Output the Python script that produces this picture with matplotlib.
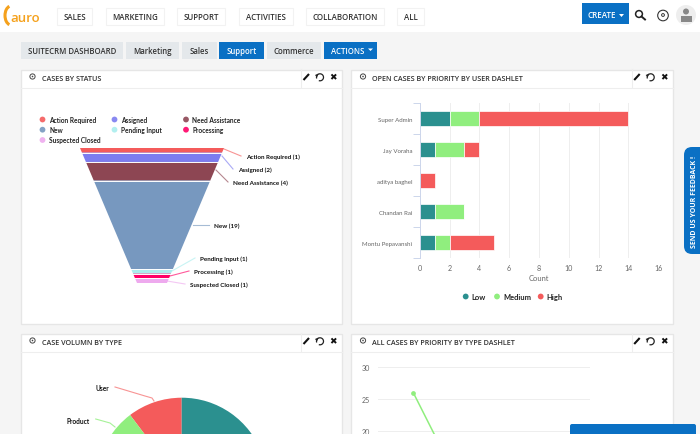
#!/usr/bin/env python3
import matplotlib
matplotlib.use('Agg')
import matplotlib.pyplot as plt
from matplotlib.patches import Rectangle, FancyBboxPatch, Polygon, Circle, Arc

W, H = 700, 435

# funnel - cases by status
status_names = ['Action Required', 'Assigned', 'Need Assistance', 'New',
                'Pending Input', 'Processing', 'Suspected Closed']
status_values = [1, 2, 4, 19, 1, 1, 1]
status_colors = ['#f45b5b', '#7c7cf0', '#8d4653', '#7798bf', '#aaeeee', '#ff0066', '#eeaaee']

# bars - open cases by priority by user
users = ['Super Admin', 'Jay Voraha', 'aditya baghel', 'Chandan Rai', 'Montu Pepavanshi']
low_counts = [2, 1, 0, 1, 1]
medium_counts = [2, 2, 0, 2, 1]
high_counts = [10, 1, 1, 0, 3]
priority_names = ['Low', 'Medium', 'High']
priority_colors = ['#2b908f', '#90ee7e', '#f45b5b']

# pie - case volume by type, only the top of it is on screen
type_names = ['User', 'Product', 'Administration']
type_values = [10.3, 12, 77.7]
type_colors = ['#f45b5b', '#90ee7e', '#2b908f']

# line - all cases by priority by type
line_medium = [26, 4]
line_ticks = [20, 25, 30]

nav_items = [('SALES', 57, 92), ('MARKETING', 106, 164), ('SUPPORT', 177, 225),
             ('ACTIVITIES', 239, 293), ('COLLABORATION', 306, 384), ('ALL', 397, 424)]
tab_items = [('SUITECRM DASHBOARD', 21, 123, False), ('Marketing', 126, 179, False),
             ('Sales', 182, 217, False), ('Support', 219, 264, True), ('Commerce', 267, 321, False)]

UI_FONT = 'Open Sans'
CHART_FONT = 'Lato'
DARK = '#333333'
BLUE = '#0a70c4'
plt.rcParams['font.family'] = [UI_FONT, 'DejaVu Sans']


def px_axes(x0, y0, x1, y1, **kw):
    # axes given in picture pixels, y going down
    return fig.add_axes([x0 / W, 1 - y1 / H, (x1 - x0) / W, (y1 - y0) / H], **kw)


fig = plt.figure(figsize=(7, 4.35), dpi=100, facecolor='#f5f5f5')

bg = px_axes(0, 0, W, H, zorder=0)
bg.set_xlim(0, W)
bg.set_ylim(H, 0)
bg.axis('off')

top = px_axes(0, 0, W, H, zorder=5)
top.set_xlim(0, W)
top.set_ylim(H, 0)
top.axis('off')
top.patch.set_alpha(0)


def dashlet_icons(x0, y_mid, x1):
    bg.plot([x1 - 41, x1 - 41], [y_mid - 8, y_mid + 10], color='#eeeeee', lw=0.8)
    # pencil
    bg.plot([x1 - 38.5, x1 - 33], [y_mid + 3, y_mid - 3], color='#111111', lw=1.5, solid_capstyle='butt')
    # reload
    bg.add_patch(Arc((x1 - 22, y_mid + 0.3), 7, 7, theta1=-200, theta2=110, color='#222222', lw=0.9))
    bg.add_patch(Polygon([(x1 - 27, y_mid - 2), (x1 - 23.5, y_mid - 3.5), (x1 - 25, y_mid + 0.5)], fc='#222222', ec='none'))
    # close
    bg.text(x1 - 9, y_mid, '\u2716', family='DejaVu Sans', fontsize=6.5, color='#111111',
            ha='center', va='center')
    # dashlet gear
    bg.add_patch(Circle((x0 + 12, y_mid - 0.5), 2.6, fc='white', ec='#444444', lw=0.7))
    bg.add_patch(Circle((x0 + 12, y_mid - 0.5), 0.8, fc='#444444', ec='none'))


def dashlet(x0, y0, x1, y1, title):
    bg.add_patch(Rectangle((x0, y0), x1 - x0, y1 - y0, fc='white', ec='#e6e6e6', lw=1))
    bg.plot([x0, x1], [y0 + 18, y0 + 18], color='#eeeeee', lw=0.8)
    bg.text(x0 + 21.5, y0 + 8.7, title, fontsize=5.2, color=DARK, fontweight='semibold', va='center')
    dashlet_icons(x0, y0 + 7.5, x1)


# top bar
bg.add_patch(Rectangle((0, 0), W, 32.5, fc='white', ec='none'))
for label, x0, x1 in nav_items:
    bg.add_patch(Rectangle((x0, 9), x1 - x0, 17, fc='white', ec='#f2f2f2', lw=0.8))
    bg.text((x0 + x1) / 2, 18, label, fontsize=5.7, color=DARK, ha='center', va='center', fontweight='semibold')

# logo
bg.text(10, 18, 'auro', fontsize=9.5, color='#f5a11c', va='center', fontweight='semibold')
bg.add_patch(Arc((11, 16.5), 12, 19, theta1=100, theta2=260, color='#f5a11c', lw=2.2))

# create button and icons
bg.add_patch(Rectangle((582, 4), 47, 21, fc=BLUE, ec='none'))
bg.text(587, 15.5, 'CREATE', fontsize=5.8, color='white', va='center', fontweight='semibold')
bg.add_patch(Polygon([(619, 15), (624, 15), (621.5, 18)], fc='white', ec='none'))
bg.add_patch(Circle((639, 15), 3.4, fc='none', ec='#222222', lw=1.1))
bg.plot([641.5, 645], [17.5, 20.5], color='#222222', lw=1.4)
bg.add_patch(Circle((663, 16.5), 5.3, fc='white', ec='#333333', lw=0.8))
bg.add_patch(Circle((663, 16), 1.4, fc='none', ec='#333333', lw=0.7))
bg.add_patch(Circle((686, 16), 10, fc='#eeeeee', ec='none'))
bg.add_patch(Circle((686, 12.5), 3, fc='#888888', ec='none'))
bg.add_patch(Rectangle((680.5, 16.5), 11, 6, fc='#888888', ec='none'))

# tabs
for label, x0, x1, active in tab_items:
    bg.add_patch(Rectangle((x0, 43), x1 - x0, 17, fc=BLUE if active else '#e4e8eb', ec='none'))
    bg.text((x0 + x1) / 2, 51.5, label, fontsize=5.6, color='white' if active else DARK,
            ha='center', va='center', fontweight='semibold')
bg.add_patch(Rectangle((324, 43), 53, 17, fc=BLUE, ec='none'))
bg.text(331, 51.5, 'ACTIONS', fontsize=5.6, color='white', va='center', fontweight='semibold')
bg.add_patch(Polygon([(368, 49.5), (373, 49.5), (370.5, 52)], fc='white', ec='none'))

# dashlets
dashlet(20.5, 70.5, 342, 325, 'CASES BY STATUS')
dashlet(351, 70.5, 672.7, 325, 'OPEN CASES BY PRIORITY BY USER DASHLET')
dashlet(20.5, 334.5, 342, 445, 'CASE VOLUMN BY TYPE')
dashlet(351, 334.5, 672.7, 445, 'ALL CASES BY PRIORITY BY TYPE DASHLET')

# funnel legend
legend_x = [42.5, 114.5, 186]
legend_y = [120.5, 130.7, 141]
for i, (name, color) in enumerate(zip(status_names, status_colors)):
    lx = legend_x[i % 3]
    ly = legend_y[i // 3]
    bg.add_patch(Circle((lx, ly), 2.9, fc=color, ec='none', alpha=0.9))
    bg.text(lx + 6.5, ly, name, family=CHART_FONT, fontsize=4.7, color='#222222', va='center', fontweight='bold')

# funnel, width shrinks linearly with the cumulative value
ax_f = px_axes(80, 149, 224, 284, zorder=1)
total = sum(status_values)
neck = 30 / 144
ax_f.set_xlim(-0.5, 0.5)
ax_f.set_ylim(total, 0)
ax_f.axis('off')
ax_f.patch.set_alpha(0)


def half_width(c):
    return (1 - (1 - neck) * c / total) / 2


cum = 0
for val, color in zip(status_values, status_colors):
    a, b = cum, cum + val
    ax_f.add_patch(Polygon([(-half_width(a), a), (half_width(a), a), (half_width(b), b), (-half_width(b), b)],
                           fc=color, ec='none'))
    if b < total:
        ax_f.plot([-half_width(b), half_width(b)], [b, b], color='white', lw=0.7)
    cum = b

# funnel labels and their leader lines
label_at = [(246, 157), (238, 170), (233, 183), (214, 226), (200, 259), (194, 272), (190, 285)]
leader_from = [(224, 150), (222, 157), (216, 171), (193, 226), (172, 272), (170, 277), (167, 282)]
for name, val, color, (lx, ly), (sx, sy) in zip(status_names, status_values, status_colors, label_at, leader_from):
    top.plot([sx, lx - 5], [sy, ly], color=color, lw=0.8, alpha=0.65)
    top.text(lx, ly, '%s (%d)' % (name, val), family=CHART_FONT, fontsize=4.5, color='#111111',
             va='center', fontweight='bold')

# stacked bars
ax_b = px_axes(419.7, 104, 658.3, 259.3, zorder=1)
ypos = list(range(len(users)))
left_med = low_counts
left_high = [a + b for a, b in zip(low_counts, medium_counts)]
for vals, left, color in zip([low_counts, medium_counts, high_counts], [[0] * 5, left_med, left_high], priority_colors):
    ax_b.barh(ypos, vals, left=left, height=0.47, color=color, edgecolor='white', linewidth=0.5)
ax_b.set_xlim(0, 16)
ax_b.set_ylim(4.5, -0.5)
ax_b.set_xticks(range(0, 17, 2))
ax_b.set_yticks(ypos, users, family=CHART_FONT)
ax_b.set_xticklabels([str(v) for v in range(0, 17, 2)], family=CHART_FONT)
ax_b.tick_params(axis='y', length=0, labelsize=4.4, labelcolor='#666666', pad=5.5)
ax_b.tick_params(axis='x', length=0, labelsize=5.1, labelcolor='#666666', pad=4)
ax_b.set_yticks([i - 0.5 for i in range(6)], minor=True)
ax_b.tick_params(axis='y', which='minor', length=5, width=0.7, color='#ccd6eb')
ax_b.grid(axis='x', color='#eeeeee', lw=0.7)
ax_b.set_axisbelow(True)
for s in ['top', 'right', 'bottom']:
    ax_b.spines[s].set_visible(False)
ax_b.spines['left'].set_color('#ccd6eb')
ax_b.spines['left'].set_linewidth(0.7)
ax_b.set_xlabel('Count', family=CHART_FONT, fontsize=5.4, color='#666666', labelpad=2)

legend_px = [465.7, 497, 540.7]
for name, color, lx in zip(priority_names, priority_colors, legend_px):
    bg.add_patch(Circle((lx, 297.5), 2.9, fc=color, ec='none'))
    bg.text(lx + 6, 298, name, family=CHART_FONT, fontsize=5.4, color='#222222', va='center', fontweight='bold')

# pie, runs off the bottom of the picture
R = 85.6
ax_p = px_axes(181.7 - R, 398.7, 181.7 + R, 398.7 + 2 * R, zorder=1)
ax_p.pie(type_values, colors=type_colors, startangle=90, radius=1, wedgeprops={'linewidth': 0})
ax_p.set_xlim(-1, 1)
ax_p.set_ylim(-1, 1)

top.plot([115, 145, 152, 154], [388, 397, 399, 402], color='#f45b5b', lw=0.8, alpha=0.65)
top.text(109, 389, 'User', family=CHART_FONT, fontsize=4.7, color='#111111', ha='right', va='center', fontweight='bold')
top.plot([95.7, 110, 115], [420, 424, 428], color='#90ee7e', lw=0.8, alpha=0.8)
top.text(90, 421.5, 'Product', family=CHART_FONT, fontsize=4.7, color='#111111', ha='right', va='center', fontweight='bold')

# line chart, y axis goes on below the picture
ax_l = px_axes(378, 368.3, 590, 559.2, zorder=1)
ax_l.plot(range(len(line_medium)), line_medium, color=priority_colors[1], lw=1.1, marker='o', ms=2.4)
ax_l.set_xlim(-0.5, 2.5)
ax_l.set_ylim(0, 30)
ax_l.set_yticks(line_ticks)
ax_l.set_yticklabels([str(v) for v in line_ticks], family=CHART_FONT)
ax_l.set_xticks([])
ax_l.tick_params(axis='y', length=0, labelsize=5.1, labelcolor='#666666', pad=6)
ax_l.grid(axis='y', color='#eeeeee', lw=0.7)
ax_l.set_axisbelow(True)
ax_l.patch.set_alpha(0)
for s in ax_l.spines.values():
    s.set_visible(False)

# feedback tab and chat box on top of everything
top.add_patch(FancyBboxPatch((684, 148), 40, 107, boxstyle='round,pad=0,rounding_size=8', fc=BLUE, ec='none'))
top.text(694, 202, 'SEND US YOUR FEEDBACK !', fontsize=5.0, color='white', rotation=90,
         ha='center', va='center', fontweight='bold')
top.add_patch(FancyBboxPatch((570, 425), 126, 30, boxstyle='round,pad=0,rounding_size=2', fc=BLUE, ec='none'))

fig.savefig('out.png', dpi=100, facecolor=fig.get_facecolor())
